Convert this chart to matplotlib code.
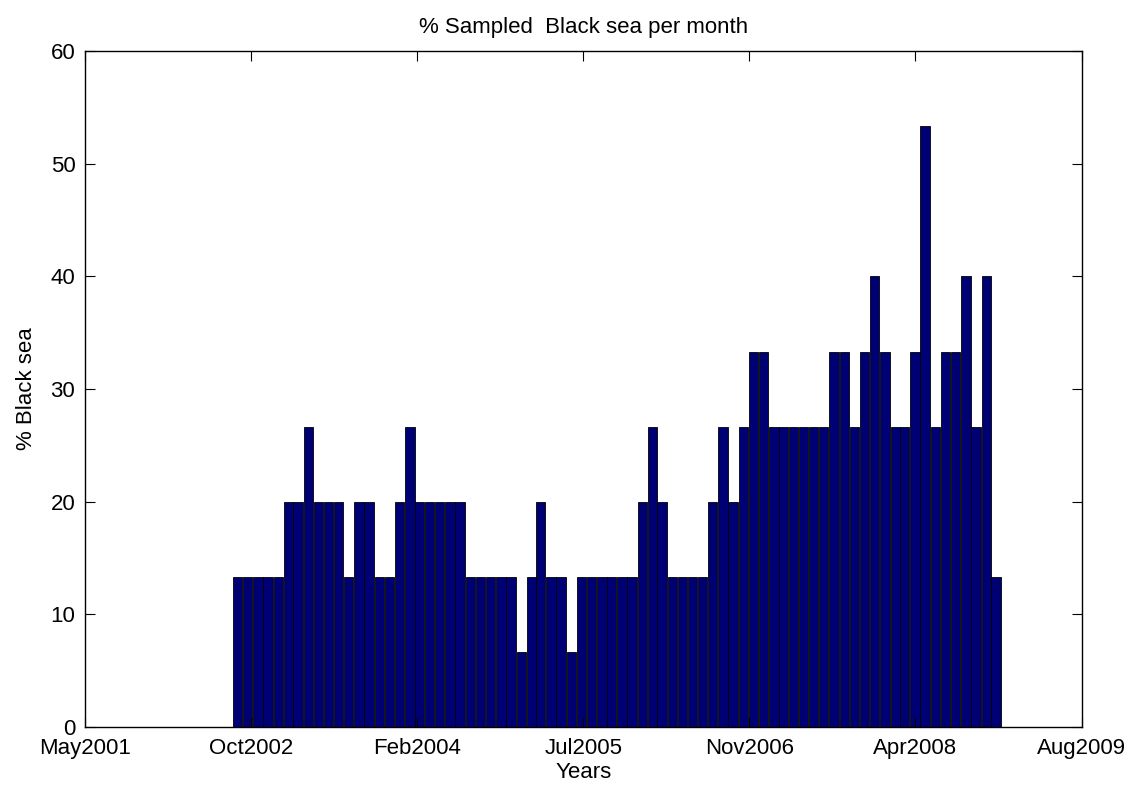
import numpy as np
import pandas as pd
import matplotlib
matplotlib.use("Agg")
import matplotlib.pyplot as plt
import matplotlib.dates as mdates
from datetime import datetime, timedelta

# monthly values, Sep 2002 - Dec 2008
start_month = "2002-09-01"
pct_black_sea = [13.33, 13.33, 13.33, 13.33, 13.33, 20, 20, 26.67, 20, 20,
                 20, 13.33, 20, 20, 13.33, 13.33, 20, 26.67, 20, 20,
                 20, 20, 20, 13.33, 13.33, 13.33, 13.33, 13.33, 6.67, 13.33,
                 20, 13.33, 13.33, 6.67, 13.33, 13.33, 13.33, 13.33, 13.33, 13.33,
                 20, 26.67, 20, 13.33, 13.33, 13.33, 13.33, 20, 26.67, 20,
                 26.67, 33.33, 33.33, 26.67, 26.67, 26.67, 26.67, 26.67, 26.67, 33.33,
                 33.33, 26.67, 33.33, 40, 33.33, 26.67, 26.67, 33.33, 53.33, 26.67,
                 33.33, 33.33, 40, 26.67, 40, 13.33]
months = pd.date_range(start_month, periods=len(pct_black_sea), freq="MS")

# axis limits / ticks like matlab datetick (every 500 days)
x_start = datetime(2001, 5, 29)
x_end = datetime(2009, 8, 16)
tick_dates = [x_start + timedelta(days=500 * i) for i in range(7)]
y_ticks = [0, 10, 20, 30, 40, 50, 60]

plt.rcParams['font.family'] = ['Liberation Sans', 'DejaVu Sans']

fig = plt.figure(figsize=(11.34, 7.88), dpi=100)
ax = fig.add_axes([0.075, 0.0774, 0.879, 0.8578])

ax.bar(months, pct_black_sea, width=28, color="#000075",
       edgecolor="black", linewidth=0.6, align="center")

ax.set_xlim(x_start, x_end)
ax.set_ylim(0, 60)
ax.set_xticks(tick_dates)
ax.xaxis.set_major_formatter(mdates.DateFormatter("%b%Y"))
ax.set_yticks(y_ticks)

ax.tick_params(direction="in", length=7, width=0.8, labelsize=16,
               top=True, right=True)
ax.tick_params(axis="x", pad=8)
ax.tick_params(axis="y", pad=7)
for s in ax.spines.values():
    s.set_linewidth(1.0)

ax.set_title("% Sampled  Black sea per month", fontsize=16, pad=13)
ax.set_xlabel("Years", fontsize=16, labelpad=2)
ax.set_ylabel("% Black sea", fontsize=16, labelpad=10)

fig.savefig("out.png", dpi=100)
